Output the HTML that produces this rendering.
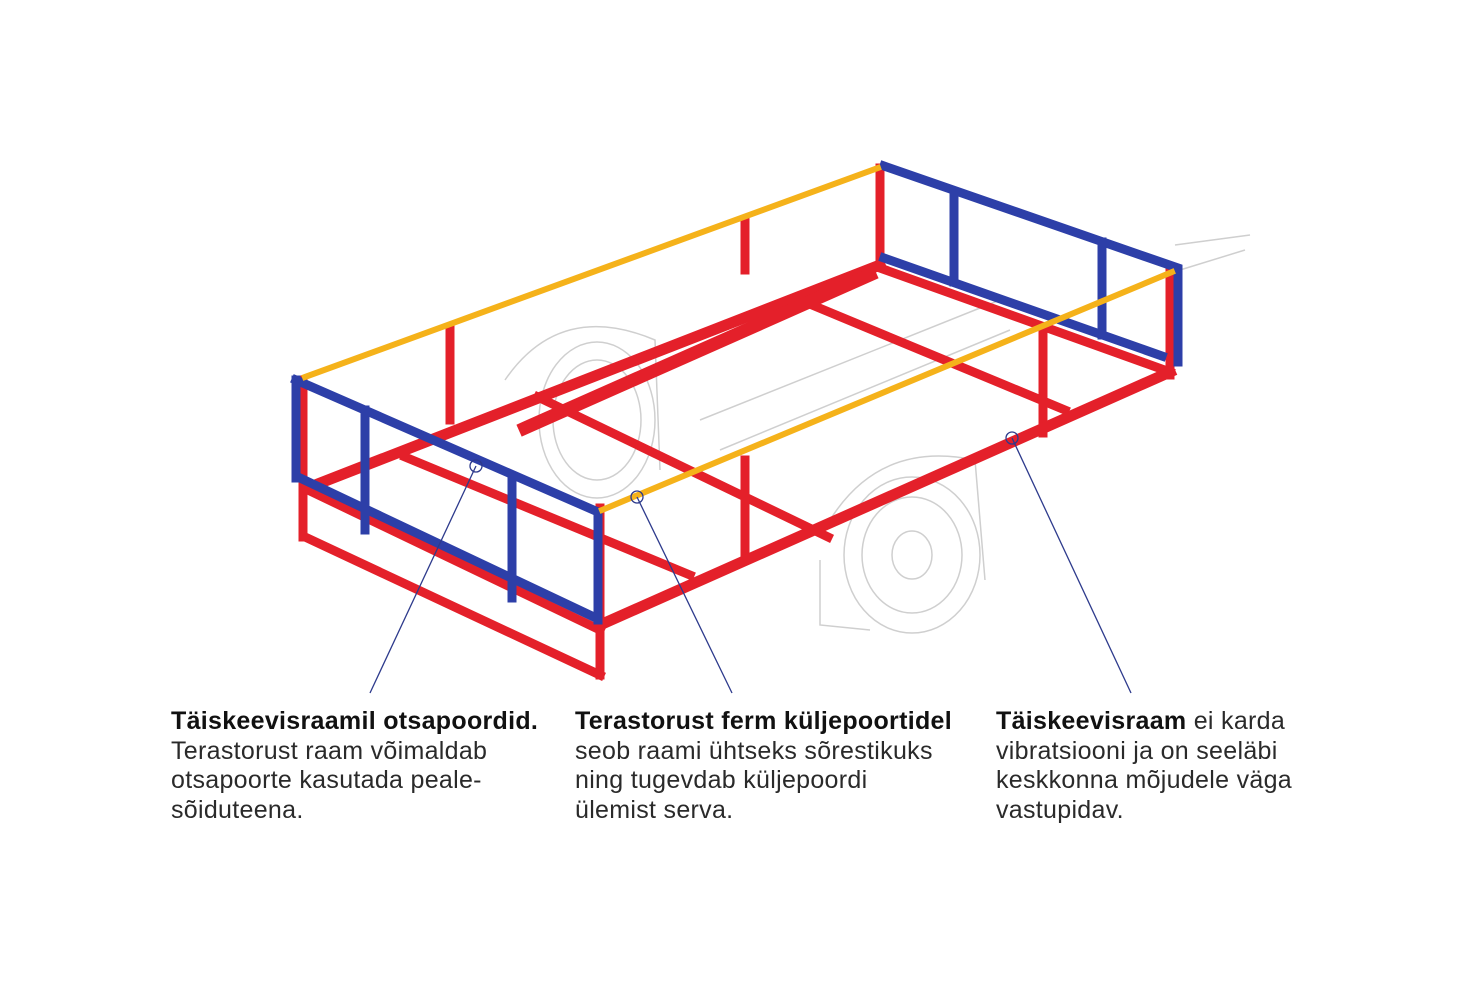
<!DOCTYPE html>
<html><head><meta charset="utf-8"><style>
body{margin:0;width:1476px;height:984px;background:#fff;overflow:hidden;position:relative;font-family:"Liberation Sans",sans-serif}
svg{position:absolute;left:0;top:0}
.t{position:absolute;top:707px;font-size:25px;line-height:29.5px;color:#2a2a2a;white-space:nowrap;letter-spacing:0.3px}
.t b{color:#111}
</style></head><body>
<svg width="1476" height="984" viewBox="0 0 1476 984">
<g fill="none" stroke="#cfcfcf" stroke-width="1.5">
 <ellipse cx="597" cy="420" rx="58" ry="78"/>
 <ellipse cx="597" cy="420" rx="44" ry="60"/>
 <ellipse cx="912" cy="555" rx="68" ry="78"/>
 <ellipse cx="912" cy="555" rx="50" ry="58"/>
 <ellipse cx="912" cy="555" rx="20" ry="24"/>
 <path d="M505 380 Q560 300 655 340 L660 470"/>
 <path d="M830 520 Q880 440 975 460 L985 580"/>
 <path d="M820 560 L820 625 L870 630"/>
 <path d="M1175 245 L1250 235 M1180 270 L1245 250"/>
 <path d="M700 420 L1000 300 M720 450 L1010 330"/>
</g>
<g stroke-linecap="square" fill="none">
 <g stroke="#e4202a" stroke-width="9">
  <path d="M303 380 L303 537 M305 537 L600 675 M600 508 L600 675"/>
  <path d="M308 490 L600 630"/>
  <path d="M880 168 L880 265 M1170 270 L1170 375"/>
  <path d="M880 268 L1170 372"/>
  <path d="M405 457 L690 575"/>
  <path d="M538 397 L828 537"/>
  <path d="M800 300 L1065 410"/>
  <path d="M450 330 L450 420 M745 220 L745 270 M745 460 L745 560 M1043 333 L1043 433"/>
 </g>
 <g stroke="#e4202a" stroke-width="11">
  <path d="M310 487 L880 265"/>
  <path d="M600 625 L1170 372"/>
 </g>
 <g stroke="#e4202a" stroke-width="13"><path d="M525 428 L870 275"/></g>
 <g stroke="#2d3fa8" stroke-width="9">
  <path d="M296 380 L598 512 L598 620 M300 478 L596 618 M296 380 L296 478"/>
  <path d="M365 410 L365 530 M512 476 L512 598"/>
  <path d="M884 166 L1178 268 L1178 362 M884 258 L1162 356"/>
  <path d="M954 192 L954 282 M1102 242 L1102 335"/>
 </g>
 <g stroke="#f5b21a" stroke-width="6">
  <path d="M305 377 L878 168"/>
  <path d="M602 510 L1172 272"/>
 </g>
</g>
<g stroke="#2d3a8c" stroke-width="1.3" fill="none">
 <path d="M370 693 L476 466"/><circle cx="476" cy="466" r="6"/>
 <path d="M732 693 L637 497"/><circle cx="637" cy="497" r="6"/>
 <path d="M1131 693 L1012 438"/><circle cx="1012" cy="438" r="6"/>
</g>
</svg>
<div class="t" style="left:171px"><b>Täiskeevisraamil otsapoordid.</b><br>Terastorust raam võimaldab<br>otsapoorte kasutada peale-<br>sõiduteena.</div>
<div class="t" style="left:575px"><b>Terastorust ferm küljepoortidel</b><br>seob raami ühtseks sõrestikuks<br>ning tugevdab küljepoordi<br>ülemist serva.</div>
<div class="t" style="left:996px"><b>Täiskeevisraam</b> ei karda<br>vibratsiooni ja on seeläbi<br>keskkonna mõjudele väga<br>vastupidav.</div>
</body></html>
